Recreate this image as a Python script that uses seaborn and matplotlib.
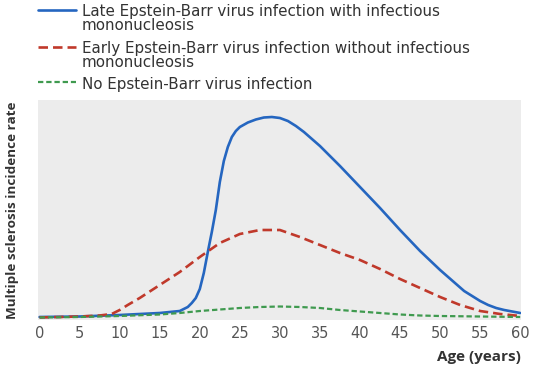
import matplotlib
matplotlib.use("Agg")
import matplotlib.pyplot as plt
from matplotlib.lines import Line2D
import seaborn as sns
import pandas as pd

# Curvas (edad en años, tasa en unidades arbitrarias)
late_age = [0, 5, 10, 15, 17.5, 18.5, 19, 19.5, 20, 20.5, 21, 21.5, 22, 22.5,
            23, 23.5, 24, 24.5, 25, 26, 27, 28, 29, 30, 31, 32, 33, 34, 35,
            37.5, 40, 42.5, 45, 47.5, 50, 52, 53, 54, 55, 56, 57, 58, 59, 60]
late_rate = [1, 1.5, 3, 5, 7, 11, 15, 20, 29, 45, 66, 86, 108, 136,
             157, 171, 181, 187, 191, 195.5, 198.5, 200.5, 201, 200, 197, 192, 186, 179, 172,
             152, 131, 110, 88, 67, 48, 34, 27, 22, 17, 13, 10, 8, 6.5, 5]

early_age = [0, 5, 7.5, 9, 10, 11, 12.5, 15, 17.5, 20, 22.5, 25, 27.5, 30,
             32.5, 35, 37.5, 40, 42.5, 45, 47.5, 50, 52.5, 55, 57.5, 60]
early_rate = [0.5, 1.5, 2.5, 4, 8, 13, 20, 33, 46, 61, 75, 84, 88, 88,
              81, 73, 65, 58, 49, 39, 30, 21, 13, 7, 4, 2]

none_age = [0, 5, 10, 15, 17.5, 20, 22.5, 25, 27.5, 30, 32.5, 35, 37.5, 40,
            42.5, 45, 47.5, 50, 55, 60]
none_rate = [0.5, 1, 2, 3.5, 5, 7, 8.5, 10, 11, 11.5, 11, 10, 8, 6.5,
             5, 3.5, 2.5, 2, 1.5, 1]

labels = ["Late Epstein-Barr virus infection with infectious\nmononucleosis",
          "Early Epstein-Barr virus infection without infectious\nmononucleosis",
          "No Epstein-Barr virus infection"]
x_ticks = list(range(0, 61, 5))

colors = ["#2566c0", "#c0392b", "#3f9a4f"]

df = pd.concat([
    pd.DataFrame({"age": late_age, "rate": late_rate, "group": labels[0]}),
    pd.DataFrame({"age": early_age, "rate": early_rate, "group": labels[1]}),
    pd.DataFrame({"age": none_age, "rate": none_rate, "group": labels[2]}),
])

sns.set_style("white", {"axes.facecolor": "#ececec"})
plt.rcParams["font.family"] = ["DejaVu Sans"]

fig = plt.figure(figsize=(5.33, 3.66), dpi=100)
ax = fig.add_axes([38 / 533, 1 - 320 / 366, 483 / 533, 220 / 366])

styles = [dict(lw=1.9), dict(lw=1.9, dashes=(3.6, 1.9)), dict(lw=1.6, dashes=(2.4, 1.3))]
for lab, col, st in zip(labels, colors, styles):
    sub = df[df["group"] == lab]
    line = sns.lineplot(data=sub, x="age", y="rate", ax=ax, color=col, linewidth=st["lw"],
                        legend=False, estimator=None, sort=False).lines[-1]
    if "dashes" in st:
        line.set_dashes(st["dashes"])
        line.set_dash_capstyle("butt")

ax.set_xlim(-0.2, 60.1)
ax.set_ylim(-2, 218)
ax.set_xticks(x_ticks)
ax.set_yticks([])
ax.tick_params(axis="x", direction="in", length=4, width=1.2, color="white",
               labelsize=10.5, labelcolor="#555555", pad=4)
for s in ax.spines.values():
    s.set_visible(False)

ax.set_xlabel("Age (years)", loc="right", fontsize=11, fontweight="bold",
              color="#333333", labelpad=7, family="Open Sans")
ax.set_ylabel("Multiple sclerosis incidence rate", fontsize=9.7, fontweight="bold",
              color="#333333", labelpad=14, family="Open Sans")

# Leyenda manual (clave alineada con la primera línea del texto)
key_y = [10, 47, 82]
text_y = [4, 41, 77]
for lab, col, st, ky, ty in zip(labels, colors, styles, key_y, text_y):
    ln = Line2D([38 / 533, 76 / 533], [1 - ky / 366] * 2, transform=fig.transFigure,
                color=col, lw=st["lw"])
    if "dashes" in st:
        ln.set_dashes(st["dashes"])
    fig.add_artist(ln)
    fig.text(82 / 533, 1 - ty / 366, lab, fontsize=10.9, color="#333333",
             va="top", ha="left", linespacing=0.95)

fig.savefig("out.png", dpi=100)
